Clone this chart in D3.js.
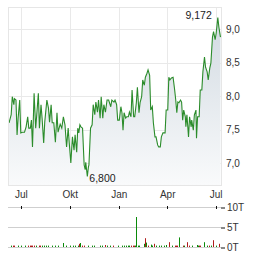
<!DOCTYPE html>
<html>
<head>
<meta charset="utf-8">
<script src="https://cdn.jsdelivr.net/npm/d3@7"></script>
<style>
  body { margin: 0; background: #fff; }
  svg { display: block; font-family: "Liberation Sans", Arial, sans-serif; }
  .tick text { fill: #333; font-size: 10px; }
</style>
</head>
<body>
<div id="chart"></div>
<script>
// chart size
var svgWidth = 264;
var svgHeight = 255;

// price data: day offsets from start date and closing price
var startDate = new Date(2023, 5, 7);
var dayOffsets = [2, 6, 8, 11, 12, 15, 17, 19, 22, 24, 27, 31, 34, 37, 39, 42, 44, 46, 49, 52,
  54, 57, 59, 62, 64, 67, 69, 73, 76, 78, 81, 83, 86, 89, 92, 94, 98, 101, 104, 107,
  110, 113, 115, 118, 121, 124, 126, 129, 131, 133, 135, 137, 140, 143, 145, 146, 149, 151, 152, 155,
  158, 160, 163, 165, 168, 170, 173, 175, 178, 180, 183, 186, 189, 193, 195, 199, 201, 204, 206, 209,
  212, 214, 216, 218, 221, 223, 226, 228, 231, 233, 236, 238, 241, 243, 246, 248, 251, 253, 256, 258,
  261, 263, 266, 268, 271, 273, 276, 278, 281, 283, 286, 288, 291, 295, 297, 300, 302, 304, 307, 310,
  313, 315, 317, 319, 321, 324, 326, 328, 330, 333, 334, 336, 339, 341, 344, 345, 348, 350, 353, 354,
  356, 359, 361, 364, 366, 369, 371, 374, 376, 379, 381, 384, 386, 389, 391, 394, 396, 399];
var prices = [7.60, 7.72, 7.99, 7.87, 7.96, 7.94, 7.42, 7.67, 7.94, 7.45, 7.46, 7.46, 7.54, 7.69, 7.52, 7.52, 7.64, 7.24, 8.04, 7.52,
  7.72, 8.04, 7.52, 7.87, 7.67, 7.30, 7.61, 7.94, 7.82, 7.61, 7.87, 7.60, 7.60, 7.31, 7.75, 7.46, 7.58, 7.52, 7.69, 7.57,
  7.24, 7.52, 7.30, 7.00, 7.39, 7.19, 7.42, 7.16, 7.52, 7.45, 7.57, 7.54, 7.52, 6.97, 6.90, 7.01, 6.80, 6.94, 6.97, 7.52,
  7.57, 7.87, 7.72, 7.91, 7.76, 7.94, 7.67, 7.99, 7.67, 7.87, 7.76, 7.94, 7.94, 7.84, 7.94, 7.91, 7.94, 7.87, 7.64, 7.64,
  7.84, 7.75, 7.49, 7.75, 7.67, 7.69, 7.69, 7.76, 7.69, 8.09, 7.69, 7.69, 7.90, 8.13, 7.75, 7.90, 7.99, 8.24, 8.16, 8.28,
  8.34, 8.39, 8.31, 7.79, 7.84, 7.60, 7.39, 7.39, 7.27, 7.24, 7.24, 7.39, 7.45, 7.45, 7.79, 7.79, 8.28, 8.24, 8.27, 8.28,
  8.09, 7.94, 7.75, 7.91, 7.90, 7.94, 7.91, 7.64, 7.79, 7.69, 7.54, 7.72, 7.39, 7.69, 7.54, 7.64, 7.49, 7.72, 7.79, 7.37,
  7.69, 7.69, 8.09, 8.09, 8.36, 8.58, 8.43, 8.36, 8.24, 8.42, 8.49, 8.88, 8.96, 8.84, 8.94, 9.172, 9.03, 8.88];

// volume data (in thousands), direction 1 = up, -1 = down
var volOffsets = [6, 9, 11, 19, 24, 32, 38, 41, 43, 46, 48, 53, 58, 61, 64, 67, 72, 76, 82, 88,
  94, 103, 109, 117, 122, 126, 131, 133, 136, 139, 143, 150, 158, 161, 172, 177, 182, 186, 192, 197,
  206, 214, 218, 221, 225, 228, 231, 234, 236, 239, 240, 244, 246, 255, 258, 259, 263, 269, 271, 274,
  278, 283, 288, 293, 296, 303, 308, 313, 315, 318, 321, 328, 331, 336, 340, 345, 354, 356, 359, 361,
  368, 373, 378, 381, 385, 390, 396];
var volumes = [0.35, 0.35, 0.35, 0.35, 0.35, 0.35, 0.35, 0.35, 0.35, 0.35, 0.35, 0.35, 0.35, 0.35, 0.35, 0.35, 0.35, 0.35, 0.35, 0.35,
  0.35, 1.0, 0.35, 0.35, 0.35, 0.35, 0.35, 0.8, 1.0, 0.35, 0.35, 0.35, 0.35, 0.35, 0.35, 0.35, 0.5, 0.35, 0.35, 0.35,
  0.35, 0.35, 0.35, 0.35, 0.35, 0.35, 0.35, 0.35, 0.35, 0.35, 7.5, 0.35, 0.35, 0.8, 2.2, 1.1, 0.35, 0.6, 0.35, 0.8,
  0.35, 0.35, 0.35, 0.35, 0.5, 1.2, 0.35, 0.35, 0.35, 0.35, 2.4, 0.35, 0.35, 1.2, 0.35, 0.35, 0.5, 0.35, 0.35, 0.35,
  1.2, 0.35, 0.35, 0.35, 1.7, 0.35, 0.8];
var volDir = [1, -1, -1, 1, 1, 1, -1, -1, -1, -1, -1, 1, -1, -1, 1, 1, 1, 1, 1, 1,
  1, 1, 1, 1, 1, 1, 1, -1, 1, -1, -1, 1, 1, 1, 1, 1, -1, 1, 1, -1,
  1, 1, 1, 1, 1, 1, -1, -1, -1, 1, 1, 1, 1, 1, -1, 1, -1, 1, 1, -1,
  1, 1, 1, 1, 1, -1, 1, -1, -1, -1, 1, -1, 1, -1, -1, 1, 1, 1, -1, -1,
  1, 1, -1, 1, -1, 1, -1];

// axis ticks
var monthTicks = [new Date(2023, 6, 1), new Date(2023, 9, 1), new Date(2024, 0, 1), new Date(2024, 3, 1), new Date(2024, 6, 1)];
var monthLabels = ["Jul", "Okt", "Jan", "Apr", "Jul"];
var priceTicks = [7.0, 7.5, 8.0, 8.5, 9.0];
var volTicks = [0, 5, 10];

function addDays(n) {
  return new Date(startDate.getTime() + n * 864e5);
}

var priceData = dayOffsets.map(function(d, i) { return { date: addDays(d), price: prices[i] }; });
var volData = volOffsets.map(function(d, i) { return { date: addDays(d), vol: volumes[i], dir: volDir[i] }; });

// plot area
var plot = { left: 8, right: 221, top: 7, bottom: 185 };

var svg = d3.select("#chart").append("svg")
  .attr("width", svgWidth)
  .attr("height", svgHeight);

var xScale = d3.scaleTime()
  .domain([startDate, addDays(400)])
  .range([plot.left, plot.right]);

var yScale = d3.scaleLinear()
  .domain([7, 9])
  .range([163, 29]);

var volScale = d3.scaleLinear()
  .domain([0, 10])
  .range([247, 207]);

// gradient under the line
var grad = svg.append("defs").append("linearGradient")
  .attr("id", "areaGrad")
  .attr("gradientUnits", "userSpaceOnUse")
  .attr("x1", 0).attr("y1", plot.top)
  .attr("x2", 0).attr("y2", plot.bottom);
grad.append("stop").attr("offset", "0%").attr("stop-color", "#cfd8e0");
grad.append("stop").attr("offset", "100%").attr("stop-color", "#f9fafb");

// gridlines
svg.append("g").selectAll("line")
  .data(priceTicks)
  .enter().append("line")
  .attr("x1", plot.left).attr("x2", plot.right)
  .attr("y1", d => Math.round(yScale(d)) + 0.5)
  .attr("y2", d => Math.round(yScale(d)) + 0.5)
  .attr("stroke", "#e9e9e9");

svg.append("g").selectAll("line")
  .data(monthTicks)
  .enter().append("line")
  .attr("y1", plot.top).attr("y2", plot.bottom)
  .attr("x1", d => Math.round(xScale(d)) + 0.5)
  .attr("x2", d => Math.round(xScale(d)) + 0.5)
  .attr("stroke", "#e9e9e9");

// area + line
var area = d3.area()
  .x(d => xScale(d.date))
  .y0(plot.bottom)
  .y1(d => yScale(d.price));

var line = d3.line()
  .x(d => xScale(d.date))
  .y(d => yScale(d.price));

svg.append("path")
  .datum(priceData)
  .attr("d", area)
  .attr("fill", "url(#areaGrad)");

svg.append("path")
  .datum(priceData)
  .attr("d", line)
  .attr("fill", "none")
  .attr("stroke", "#2b8c2b")
  .attr("stroke-width", 1.1);

// plot border
svg.append("rect")
  .attr("x", plot.left + 0.5).attr("y", plot.top + 0.5)
  .attr("width", plot.right - plot.left).attr("height", plot.bottom - plot.top)
  .attr("fill", "none")
  .attr("stroke", "#e6e6e6");

// high / low labels
var hi = priceData[d3.maxIndex(priceData, d => d.price)];
var lo = priceData[d3.minIndex(priceData, d => d.price)];
var fmt = d3.format(".3f");

svg.append("text")
  .attr("x", xScale(hi.date) - 6)
  .attr("y", yScale(hi.price) + 2)
  .attr("text-anchor", "end")
  .attr("font-size", "10.5px")
  .attr("fill", "#222")
  .text(fmt(hi.price).replace(".", ","));

svg.append("text")
  .attr("x", xScale(lo.date) + 2)
  .attr("y", yScale(lo.price) + 6)
  .attr("font-size", "10.5px")
  .attr("fill", "#222")
  .text(fmt(lo.price).replace(".", ","));

// price axis on the right
var rightAxis = d3.axisRight(yScale)
  .tickValues(priceTicks)
  .tickSize(0)
  .tickPadding(5)
  .tickFormat(d => d3.format(".1f")(d).replace(".", ","));

svg.append("g")
  .attr("transform", `translate(${plot.right}, 0)`)
  .call(rightAxis)
  .call(g => g.select(".domain").remove());

// month labels
var bottomAxis = d3.axisBottom(xScale)
  .tickValues(monthTicks)
  .tickSize(0)
  .tickPadding(6)
  .tickFormat((d, i) => monthLabels[i]);

svg.append("g")
  .attr("transform", `translate(0, ${plot.bottom})`)
  .call(bottomAxis)
  .call(g => g.select(".domain").remove());

// volume panel gridlines
svg.append("g").selectAll("line")
  .data(volTicks)
  .enter().append("line")
  .attr("x1", plot.left).attr("x2", plot.right)
  .attr("y1", d => volScale(d) + 0.5)
  .attr("y2", d => volScale(d) + 0.5)
  .attr("stroke", "#cfcfcf");

// month ticks on top of the volume panel
svg.append("g").selectAll("line")
  .data(monthTicks)
  .enter().append("line")
  .attr("x1", d => Math.round(xScale(d)) + 0.5)
  .attr("x2", d => Math.round(xScale(d)) + 0.5)
  .attr("y1", volScale(10) - 1)
  .attr("y2", volScale(10) + 2)
  .attr("stroke", "#111");

// volume bars
svg.append("g").selectAll("rect")
  .data(volData)
  .enter().append("rect")
  .attr("x", d => Math.round(xScale(d.date)))
  .attr("width", 1)
  .attr("y", d => volScale(d.vol))
  .attr("height", d => volScale(0) - volScale(d.vol))
  .attr("fill", d => d.dir > 0 ? "#0a8a0a" : "#b01c1c");

// volume axis
var volAxis = d3.axisRight(volScale)
  .tickValues(volTicks)
  .tickSize(4)
  .tickPadding(2)
  .tickFormat(d => d + "T");

svg.append("g")
  .attr("transform", `translate(${plot.right}, 0.5)`)
  .call(volAxis)
  .call(g => g.select(".domain").remove())
  .call(g => g.selectAll(".tick line").attr("stroke", "#111"));
</script>
</body>
</html>
